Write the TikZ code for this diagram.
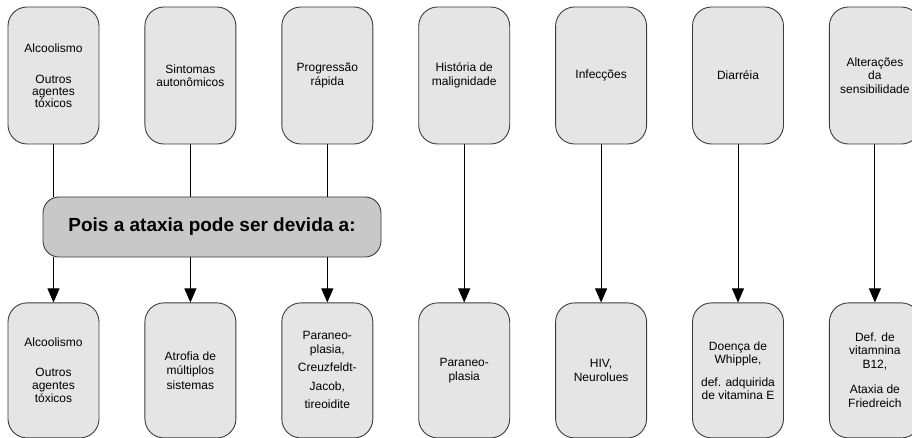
\documentclass[tikz,border=0pt]{standalone}
\usepackage{fontspec}
\setmainfont{Liberation Sans}
\usepackage{tikz}
\usetikzlibrary{positioning,arrows.meta}
\definecolor{boxgray}{RGB}{229,229,229}
\definecolor{midgray}{RGB}{200,200,200}
\definecolor{edgegray}{RGB}{60,60,60}
\tikzstyle{connector} = [line width=0.9pt,-{Triangle[width=12pt,length=14pt]}]
\tikzstyle{causebox} = [rectangle, rounded corners=19pt, draw=edgegray, line width=0.9pt, fill=boxgray, minimum width=91pt, align=center, font=\fontsize{12}{13.5}\selectfont]

\begin{document}
\begin{tikzpicture}[x=1pt,y=-1pt,node distance=45pt]
        \useasboundingbox (0,0) rectangle (912,438);
        % sinais clinicos
        \node (top1) [causebox, minimum height=137pt] at (53.5,75.5) {Alcoolismo\\[17pt]Outros\\[-1.5pt]agentes\\[-1.5pt]tóxicos};
        \node (top2) [causebox, minimum height=137pt, right=of top1] {Sintomas\\autonômicos};
        \node (top3) [causebox, minimum height=137pt, right=of top2] {Progressão\\rápida};
        \node (top4) [causebox, minimum height=137pt, right=of top3] {História de\\malignidade};
        \node (top5) [causebox, minimum height=137pt, right=of top4] {Infecções};
        \node (top6) [causebox, minimum height=137pt, right=of top5] {Diarréia};
        \node (top7) [causebox, minimum height=137pt, right=of top6] {Alterações\\da\\sensibilidade};
        % causas
        \node (bot1) [causebox, minimum height=135pt, below=158pt of top1] {Alcoolismo\\[16.5pt]Outros\\[-0.5pt]agentes\\[0pt]tóxicos};
        \node (bot2) [causebox, minimum height=135pt, right=of bot1] {Atrofia de\\[1pt]múltiplos\\[1pt]sistemas};
        \node (bot3) [causebox, minimum height=135pt, right=of bot2] {Paraneo-\\[0.5pt]plasia,\\[4.5pt]Creuzfeldt-\\[5.5pt]Jacob,\\[4.5pt]tireoidite};
        \node (bot4) [causebox, minimum height=135pt, right=of bot3] {Paraneo-\\plasia};
        \node (bot5) [causebox, minimum height=135pt, right=of bot4] {HIV,\\Neurolues};
        \node (bot6) [causebox, minimum height=135pt, right=of bot5] {Doença de\\[-0.5pt]Whipple,\\[9.5pt]def. adquirida\\[-0.5pt]de vitamina E};
        \node (bot7) [causebox, minimum height=135pt, right=of bot6] {Def. de\\[-0.5pt]vitamnina\\[0.5pt]B12,\\[11.5pt]Ataxia de\\[0.5pt]Friedreich};
        % caixa central
        \node (mid) [rectangle, rounded corners=16pt, draw=edgegray, line width=0.9pt, fill=midgray, minimum width=338pt, minimum height=60pt, font=\fontsize{19}{22}\selectfont\bfseries] at (212,227) {Pois a ataxia pode ser devida a:};
        \draw [line width=0.9pt] (top1.south) -- (top1.south |- mid.north);
        \draw [line width=0.9pt] (top2.south) -- (top2.south |- mid.north);
        \draw [line width=0.9pt] (top3.south) -- (top3.south |- mid.north);
        \draw [connector] (bot1.north |- mid.south) -- (bot1.north);
        \draw [connector] (bot2.north |- mid.south) -- (bot2.north);
        \draw [connector] (bot3.north |- mid.south) -- (bot3.north);
        \draw [connector] (top4.south) -- (bot4.north);
        \draw [connector] (top5.south) -- (bot5.north);
        \draw [connector] (top6.south) -- (bot6.north);
        \draw [connector] (top7.south) -- (bot7.north);
    \end{tikzpicture}
\end{document}
